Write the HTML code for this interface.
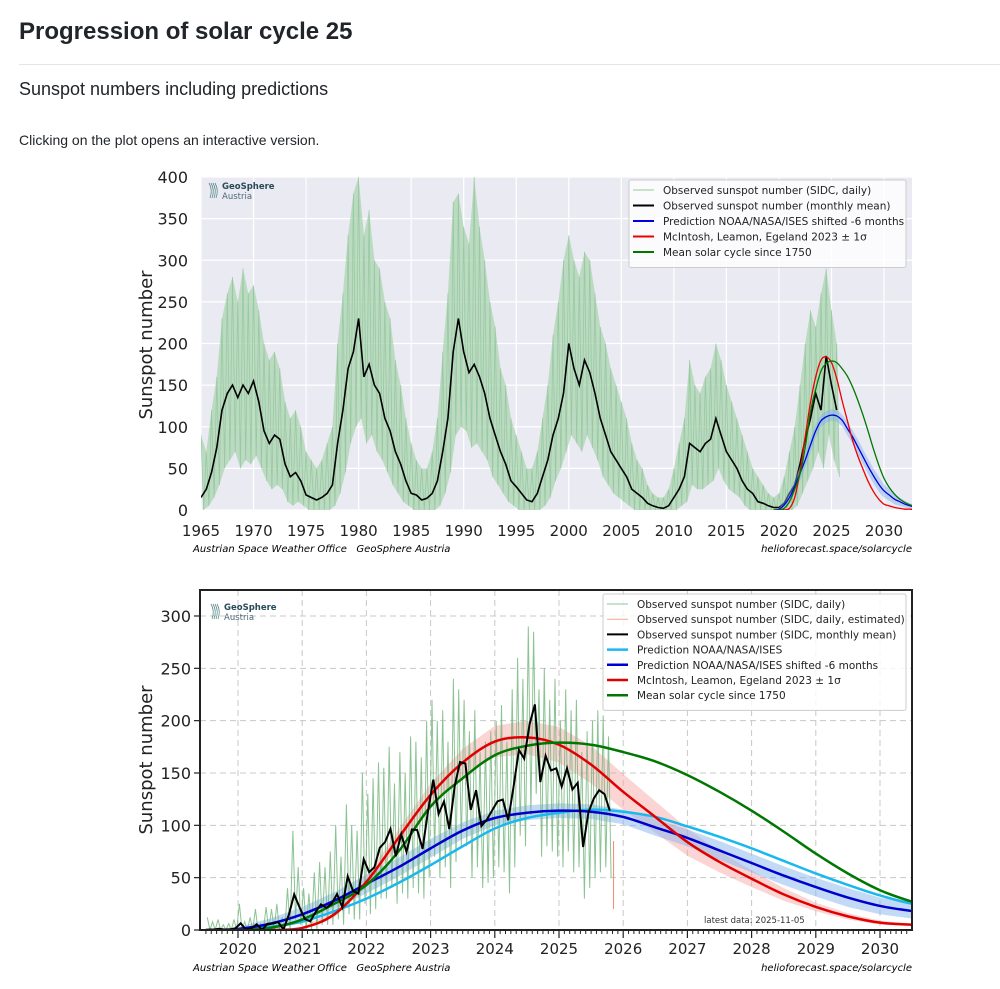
<!DOCTYPE html>
<html><head><meta charset="utf-8"><style>
body{margin:0;width:1000px;height:989px;background:#fff;font-family:"Liberation Sans",sans-serif;overflow:hidden;position:relative}
h1{position:absolute;left:19px;top:18px;margin:0;font-size:24px;font-weight:bold;color:#212529}
.hr{position:absolute;left:19px;top:64px;width:981px;height:1px;background:#e5e5e5}
h2{position:absolute;left:19px;top:79px;margin:0;font-size:18px;font-weight:400;color:#212529}
p{position:absolute;left:19px;top:132px;margin:0;font-size:14px;color:#212529}
svg{position:absolute;left:0;top:0}
.t{font-family:"DejaVu Sans",sans-serif;font-size:15px;fill:#222}
.lg{font-family:"DejaVu Sans",sans-serif;font-size:10.5px;fill:#222}
.ft{font-family:"DejaVu Sans",sans-serif;font-size:10px;font-style:italic;fill:#000}
</style></head><body>
<h1>Progression of solar cycle 25</h1>
<div class="hr"></div>
<h2>Sunspot numbers including predictions</h2>
<p>Clicking on the plot opens an interactive version.</p>
<svg id="svg" width="1000" height="989"></svg>
<script>
// ---- Top chart data (half-year steps from 1965.0) ----
const topStart = 1965;
const topMean = [15,25,45,75,120,140,150,135,150,140,
155,130,95,80,90,85,55,40,45,35,
18,15,12,15,20,30,80,120,170,190,
230,160,175,150,140,110,95,70,55,35,
20,18,12,14,20,35,70,110,190,230,
190,165,175,160,140,110,90,70,55,35,
28,20,12,10,20,40,60,90,110,140,
200,170,150,180,165,140,110,90,70,60,
50,40,25,20,15,8,5,3,2,5,
15,25,40,80,75,70,80,85,110,90,
70,60,50,35,25,20,10,8,5,3,
3,8,20,30,55,85,110,140,120,185,
150,120];
const topHigh = [90,70,120,160,230,260,280,250,290,260,
270,240,200,180,190,170,130,110,120,100,
70,60,50,60,80,100,200,260,330,380,
400,330,360,300,290,250,230,180,150,110,
80,60,50,50,70,110,190,260,370,380,
340,320,400,340,300,250,220,170,150,110,
90,70,50,50,70,110,150,210,250,300,
330,300,280,310,300,260,220,200,170,150,
130,110,80,60,50,30,20,15,15,25,
50,80,110,180,150,140,160,170,200,180,
150,130,110,90,70,50,40,30,20,15,
20,40,70,100,150,200,240,220,260,290,
240,200];
const topLow = [0,5,15,30,50,60,70,50,60,55,
65,50,35,25,30,25,10,5,10,5,
0,0,0,0,0,5,20,45,80,100,
110,80,90,70,60,45,30,20,10,5,
0,0,0,0,0,5,20,45,90,100,
95,75,80,70,60,40,30,20,10,5,
0,0,0,0,0,5,15,35,50,70,
90,80,70,90,75,60,40,30,20,15,
10,5,0,0,0,0,0,0,0,0,
0,5,10,30,25,25,30,35,50,35,
25,20,15,5,0,0,0,0,0,0,
0,0,0,5,20,35,50,70,50,90,
60,40];
// ---- Monthly SIDC (from 2019 Jul) ----
const monStart = 2019.5;
const monMean = [0.5,0.5,1.1,0.4,0.5,1.5,
6.4,0.4,1.5,5.4,0.2,5.8,6.1,7.5,0.6,14.4,34.0,21.8,
10.4,8.2,17.2,24.5,21.2,25.0,34.3,22.0,51.3,37.4,34.8,67.5,
55.3,59.9,78.5,84.1,96.5,70.5,91.4,74.6,96.0,95.5,77.6,112.8,
143.6,110.9,122.8,96.4,137.4,160.5,159.1,114.8,133.6,99.4,105.4,114.2,
123.0,124.7,104.9,136.5,172.1,163.8,196.6,215.5,141.4,166.4,152.5,154.5,
137.0,154.6,134.2,140.6,79.3,112.3,125.6,133.6,129.8,114.0];
const monHigh = [12,8,10,5,6,10,
25,8,12,20,6,22,20,25,12,40,95,60,
40,35,55,65,60,75,100,70,120,100,95,150,
130,145,160,155,175,140,170,150,185,180,165,200,
220,200,210,180,240,230,220,190,210,170,180,190,
200,215,180,230,260,240,290,285,230,250,220,240,
200,230,210,220,170,190,200,210,205,185];
const monLow = [0,0,0,0,0,0,
0,0,0,0,0,0,0,0,0,0,10,5,
0,0,0,5,5,5,10,5,15,10,10,25,
15,20,30,30,40,25,35,30,40,35,30,50,
70,50,60,40,65,80,80,50,60,40,45,50,
60,55,35,60,90,80,110,130,70,80,75,70,
60,75,55,60,30,40,50,55,60,50];
// ---- Predictions (half-year steps from 2019.5) ----
const predStart = 2019.5;
const mcintosh = [0,0,0,2,15,46,88,129,160,180,184,177,158,132,108,84,65,49,34,22,13,7,5,3,2,1,1,0];
const mcintoshSigma = [0,0,0,1,3,5,8,11,13,15,16,17,18,17,15,13,10,8,6,4,3,2,1,1,1,0,0,0];
const meanCycle = [0,0,2,10,25,43,75,118,145,167,176,179,177,170,161,148,132,114,94,73,54,38,27,19,13,9,6,4];
const noaa = [0,0,3,8,18,30,45,62,80,97,107,112,115,113,108,99,89,78,66,54,43,33,25,19,14,10,7,5];
const noaaShifted = [0,1,6,15,28,44,60,78,95,107,112,114,113,108,98,88,76,64,52,41,31,23,18,13,10,7,5,3];
const noaaSigma = [0,2,5,7,8,9,9,9,8,7,7,7,7,7,8,8,9,9,9,9,9,8,7,6,5,4,3,2];
const estimated = [20,85];
const topXTicks = [1965,1970,1975,1980,1985,1990,1995,2000,2005,2010,2015,2020,2025,2030];
const topYTicks = [0,50,100,150,200,250,300,350,400];
const botXTicks = [2020,2021,2022,2023,2024,2025,2026,2027,2028,2029,2030];
const botYTicks = [0,50,100,150,200,250,300];

const NS='http://www.w3.org/2000/svg';
const svg=document.getElementById('svg');
function mk(tag,attrs,parent){const e=document.createElementNS(NS,tag);for(const k in attrs)e.setAttribute(k,attrs[k]);(parent||svg).appendChild(e);return e;}
function txt(s,attrs,parent){const e=mk('text',attrs,parent);e.textContent=s;return e;}
function smooth(pts){let d='M'+pts[0][0]+','+pts[0][1];for(let i=0;i<pts.length-1;i++){const p0=pts[i-1]||pts[i],p1=pts[i],p2=pts[i+1],p3=pts[i+2]||p2;
d+=' C'+(p1[0]+(p2[0]-p0[0])/6)+','+(p1[1]+(p2[1]-p0[1])/6)+' '+(p2[0]-(p3[0]-p1[0])/6)+','+(p2[1]-(p3[1]-p1[1])/6)+' '+p2[0]+','+p2[1];}return d;}
function poly(pts){return pts.map(p=>p[0].toFixed(1)+','+p[1].toFixed(1)).join(' ');}

// ================= TOP CHART =================
const T={l:201,r:912,t:177,b:510,x0:1965,ppy:10.508,ppv:0.8325};
const xT=y=>T.l+(y-T.x0)*T.ppy, yT=v=>T.b-v*T.ppv;
const gT=mk('g',{});


const bgT=mk('rect',{x:T.l,y:T.t,width:T.r-T.l,height:T.b-T.t,fill:'#eaeaf2'},gT);


const ct=mk('clipPath',{id:'cT'},gT);mk('rect',{x:T.l,y:T.t,width:T.r-T.l,height:T.b-T.t},ct);
topXTicks.forEach(y=>{const l=mk('line',{x1:xT(y),x2:xT(y),y1:T.t,y2:T.b,stroke:'#fff','stroke-width':1.2},gT);

const t=txt(String(y),{x:xT(y),y:536,'text-anchor':'middle',class:'t'},gT);
});
topYTicks.forEach(v=>{const l=mk('line',{x1:T.l,x2:T.r,y1:yT(v),y2:yT(v),stroke:'#fff','stroke-width':1.2},gT);

const t=txt(String(v),{x:188,y:yT(v)+6,'text-anchor':'end',class:'t',style:'font-size:16px'},gT);
});
const cpT=mk('g',{'clip-path':'url(#cT)'},gT);
// daily band
{const hi=topHigh.map((v,i)=>[xT(topStart+i*0.5),yT(v)]);const lo=topLow.map((v,i)=>[xT(topStart+i*0.5+0.25),yT(v)]);
const a=mk('polygon',{points:poly(hi.concat(lo.slice().reverse())),fill:'#a6d3ad',opacity:0.7},cpT);

const z=[];topHigh.forEach((v,i)=>{z.push([xT(topStart+i*0.5),yT(v)]);z.push([xT(topStart+i*0.5+0.25),yT(topLow[i])]);});
const zl=mk('polyline',{points:poly(z),fill:'none',stroke:'#8fc598','stroke-width':0.8,opacity:0.8},cpT);
}
// monthly mean
{const p=topMean.map((v,i)=>[xT(topStart+i*0.5),yT(v)]);
const l=mk('polyline',{points:poly(p),fill:'none',stroke:'#000','stroke-width':1.6},cpT);
}
function curve(arr,start,xf,yf,col,w,par,name){const p=arr.map((v,i)=>[xf(start+i*0.5),yf(v)]);
const e=mk('path',{d:smooth(p),fill:'none',stroke:col,'stroke-width':w},par);}
function band(arr,sig,start,xf,yf,col,op,par,name){const up=arr.map((v,i)=>[xf(start+i*0.5),yf(v+sig[i])]);const dn=arr.map((v,i)=>[xf(start+i*0.5),yf(Math.max(0,v-sig[i]))]);
const e=mk('polygon',{points:poly(up.concat(dn.reverse())),fill:col,opacity:op},par);}
band(noaaShifted,noaaSigma,predStart,xT,yT,'#7fb0ee',0.45,cpT,'top-noaa-band');
curve(noaaShifted,predStart,xT,yT,'#0000dd',1.3,cpT,'top-noaa-shifted-curve');
curve(mcintosh,predStart,xT,yT,'#ee0000',1.3,cpT,'top-mcintosh-curve');
curve(meanCycle,predStart,xT,yT,'#007700',1.3,cpT,'top-mean-cycle-curve');
{const t=txt('Sunspot number',{x:0,y:0,transform:'translate(152,345) rotate(-90)','text-anchor':'middle',class:'t',style:'font-size:18px'},gT);
}
function legend(par,x,y,w,items,step,prefix){const r=mk('rect',{x:x,y:y,width:w,height:items.length*step+10,fill:'#fff','fill-opacity':0.8,stroke:'#ccc',rx:2},par);

items.forEach((it,i)=>{const cy=y+10+i*step;const g=mk('g',{},par);
mk('line',{x1:x+4,x2:x+25,y1:cy,y2:cy,stroke:it[1],'stroke-width':it[2]},g);txt(it[0],{x:x+34,y:cy+4,class:'lg'},g);});}
legend(gT,629,180,277,[['Observed sunspot number (SIDC, daily)','#93c79c',1],['Observed sunspot number (monthly mean)','#000',2],['Prediction NOAA/NASA/ISES shifted -6 months','#0000dd',2],['McIntosh, Leamon, Egeland 2023 \u00b1 1\u03c3','#ee0000',2],['Mean solar cycle since 1750','#007700',2]],15.5,'top');
function logo(par,x,y,name){const g=mk('g',{},par);
for(let i=0;i<4;i++)mk('path',{d:`M${x+2+i*2},${y+16} q${3},-8 ${-1},-15`,fill:'none',stroke:'#5a8a8a','stroke-width':0.8},g);
txt('GeoSphere',{x:x+14,y:y+7,style:'font-family:"DejaVu Sans",sans-serif;font-size:8.5px;font-weight:bold;fill:#2a4a5a'},g);
txt('Austria',{x:x+14,y:y+17,style:'font-family:"DejaVu Sans",sans-serif;font-size:8.5px;fill:#4a6a7a'},g);}
logo(gT,208,182,'top-geosphere-logo');
{let t=txt('Austrian Space Weather Office\u00a0\u00a0\u00a0GeoSphere Austria',{x:193,y:552,class:'ft'},gT);
t=txt('helioforecast.space/solarcycle',{x:912,y:552,class:'ft','text-anchor':'end'},gT);}

// ================= BOTTOM CHART =================
const B={l:200,r:912,t:590,b:930,x0:2020,ppy:64.2,ppv:1.0467,xs:238};
const xB=y=>B.xs+(y-B.x0)*B.ppy, yB=v=>B.b-v*B.ppv;
const gB=mk('g',{});


const cb=mk('clipPath',{id:'cB'},gB);mk('rect',{x:B.l,y:B.t,width:B.r-B.l,height:B.b-B.t},cb);
botXTicks.forEach(y=>{const l=mk('line',{x1:xB(y),x2:xB(y),y1:B.t,y2:B.b,stroke:'#c8c8c8','stroke-dasharray':'6,4'},gB);

mk('line',{x1:xB(y),x2:xB(y),y1:B.b,y2:B.b+8,stroke:'#222','stroke-width':1.2},gB);
const t=txt(String(y),{x:xB(y),y:954,'text-anchor':'middle',class:'t'},gB);
});
for(let m=Math.ceil((2019.42-2020)*12);m<=Math.floor((2030.48-2020)*12);m++){if(m%12===0)continue;mk('line',{x1:xB(2020+m/12),x2:xB(2020+m/12),y1:B.b,y2:B.b+4,stroke:'#222','stroke-width':1},gB);}
botYTicks.forEach(v=>{if(v>0){const l=mk('line',{x1:B.l,x2:B.r,y1:yB(v),y2:yB(v),stroke:'#c8c8c8','stroke-dasharray':'6,4'},gB);
}
mk('line',{x1:B.l-6,x2:B.l,y1:yB(v),y2:yB(v),stroke:'#222','stroke-width':1.2},gB);
const t=txt(String(v),{x:191,y:yB(v)+6,'text-anchor':'end',class:'t',style:'font-size:16px'},gB);
});
const cpB=mk('g',{'clip-path':'url(#cB)'},gB);
band(mcintosh,mcintoshSigma,predStart,xB,yB,'#f6a0a0',0.45,cpB,'mcintosh-sigma-band');
band(noaaShifted,noaaSigma,predStart,xB,yB,'#86b6ee',0.5,cpB,'noaa-sigma-band');
{const z=[];monHigh.forEach((v,i)=>{const x=monStart+i/12+1/24;z.push([xB(x-0.02),yB(v)]);z.push([xB(x+0.02),yB(monLow[i])]);});
const zl=mk('polyline',{points:poly(z),fill:'none',stroke:'#6fb479','stroke-width':1,opacity:0.8},cpB);
}
{const e=mk('line',{x1:xB(2025.85),x2:xB(2025.85),y1:yB(estimated[0]),y2:yB(estimated[1]),stroke:'#f08a6a','stroke-width':1},cpB);
}
curve(noaa,predStart,xB,yB,'#1ab8ee',2.5,cpB,'noaa-curve');
curve(noaaShifted,predStart,xB,yB,'#0000cc',2.5,cpB,'noaa-shifted-curve');
curve(mcintosh,predStart,xB,yB,'#e00000',2.5,cpB,'mcintosh-curve');
curve(meanCycle,predStart,xB,yB,'#007700',2.5,cpB,'mean-cycle-curve');
{const p=monMean.map((v,i)=>[xB(monStart+i/12+1/24),yB(v)]);
const l=mk('polyline',{points:poly(p),fill:'none',stroke:'#000','stroke-width':2},cpB);
}
{const f=mk('rect',{x:B.l,y:B.t,width:B.r-B.l,height:B.b-B.t,fill:'none',stroke:'#222','stroke-width':2},gB);
}
{const t=txt('Sunspot number',{x:0,y:0,transform:'translate(152,760) rotate(-90)','text-anchor':'middle',class:'t',style:'font-size:18px'},gB);

const l=txt('latest data: 2025-11-05',{x:704,y:923,style:'font-family:"DejaVu Sans",sans-serif;font-size:8.5px;fill:#333'},gB);
}
legend(gB,603,594,303,[['Observed sunspot number (SIDC, daily)','#8cc594',1],['Observed sunspot number (SIDC, daily, estimated)','#f5a88e',1],['Observed sunspot number (SIDC, monthly mean)','#000',2],['Prediction NOAA/NASA/ISES','#1ab8ee',2.5],['Prediction NOAA/NASA/ISES shifted -6 months','#0000cc',2.5],['McIntosh, Leamon, Egeland 2023 \u00b1 1\u03c3','#e00000',2.5],['Mean solar cycle since 1750','#007700',2.5]],15.2,'bottom');
logo(gB,210,603,'bottom-geosphere-logo');
{let t=txt('Austrian Space Weather Office\u00a0\u00a0\u00a0GeoSphere Austria',{x:193,y:971,class:'ft'},gB);
t=txt('helioforecast.space/solarcycle',{x:912,y:971,class:'ft','text-anchor':'end'},gB);}
</script>
</body></html>
